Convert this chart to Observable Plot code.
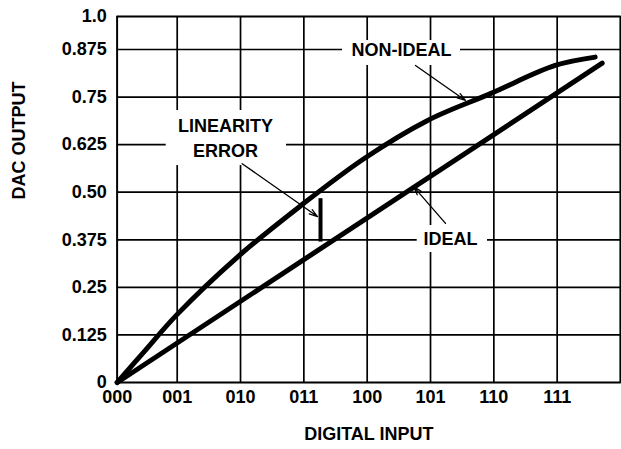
<!DOCTYPE html>
<html>
<head>
<meta charset="utf-8">
<script src="https://cdn.jsdelivr.net/npm/d3@7"></script>
<script src="https://cdn.jsdelivr.net/npm/@observablehq/plot@0.6"></script>
<style>
  html, body { margin: 0; padding: 0; background: white; }
  #chart { width: 621px; height: 449px; }
</style>
</head>
<body>
<div id="chart"></div>
<script>
// Tick labels
const xTickLabels = ["000", "001", "010", "011", "100", "101", "110", "111"];
const yTickValues = [0, 0.125, 0.25, 0.375, 0.5, 0.625, 0.75, 0.875, 1.0];
const yTickLabels = ["0", "0.125", "0.25", "0.375", "0.50", "0.625", "0.75", "0.875", "1.0"];

// Non-ideal transfer curve (x = digital code index, y = DAC output)
const nonIdealX = [0, 0.443, 1.0, 1.947, 2.946, 3.948, 4.947, 5.947, 6.968, 7.6];
const nonIdealY = [0, 0.080, 0.179, 0.329, 0.464, 0.588, 0.688, 0.759, 0.833, 0.855];

// Ideal transfer line
const idealX = [0, 7.711];
const idealY = [0, 0.839];

// Linearity error bar
const errorBarX = [3.263];
const errorBarY1 = [0.369];
const errorBarY2 = [0.483];

// Annotation labels
const labelText = ["NON-IDEAL", "LINEARITY", "ERROR", "IDEAL"];
const labelX = [4.542, 1.763, 1.763, 5.316];
const labelY = [0.872, 0.673, 0.608, 0.376];

// White boxes behind labels (break the grid)
const boxX1 = [3.61, 0.817, 4.79];
const boxX2 = [5.473, 2.726, 5.9];
const boxY1 = [0.833, 0.570, 0.3416];
const boxY2 = [0.909, 0.7147, 0.4125];

// Pointer arrows
const arrowX1 = [4.763, 5.237, 2.026];
const arrowY1 = [0.833, 0.418, 0.575];
const arrowX2 = [5.552, 4.736, 3.215];
const arrowY2 = [0.741, 0.514, 0.436];

// The printed axes are not quite uniform: first code step is narrower,
// and the 0.875 -> 1.0 step is compressed. Map values to grid units.
const firstStep = 60 / 63.33;
const topStep = 33 / 47.57;
const gx = c => c <= 1 ? c * firstStep : firstStep + (c - 1);
const gy = v => v <= 0.875 ? v * 8 : 7 + (v - 0.875) / 0.125 * topStep;

const nonIdeal = nonIdealX.map((x, i) => ({x, y: nonIdealY[i]}));
const ideal = idealX.map((x, i) => ({x, y: idealY[i]}));
const bars = errorBarX.map((x, i) => ({x, y1: errorBarY1[i], y2: errorBarY2[i]}));
const labels = labelText.map((t, i) => ({t, x: labelX[i], y: labelY[i]}));
const boxes = boxX1.map((x1, i) => ({x1, x2: boxX2[i], y1: boxY1[i], y2: boxY2[i]}));
const arrows = arrowX1.map((x1, i) => ({x1, y1: arrowY1[i], x2: arrowX2[i], y2: arrowY2[i]}));
const xTicks = xTickLabels.map((t, i) => ({x: i, t}));
const xGrid = xTickLabels.map((_, i) => i).concat([xTickLabels.length]);
const yTicks = yTickValues.map((v, i) => ({y: v, t: yTickLabels[i]}));

const W = 621, H = 449, mL = 116.7, mR = 1, mT = 16, mB = 67;
const FONT = "'Liberation Sans', Arial, Helvetica, sans-serif";

const chart = Plot.plot({
  width: W,
  height: H,
  marginLeft: mL,
  marginRight: mR,
  marginTop: mT,
  marginBottom: mB,
  style: {fontFamily: FONT, fontSize: "18px", fontWeight: "bold", background: "white", color: "black"},
  x: {domain: [0, gx(xTickLabels.length)], axis: null},
  y: {domain: [0, gy(1)], axis: null},
  marks: [
    Plot.ruleX(xGrid, {x: d => gx(d), stroke: "black", strokeWidth: 1.7}),
    Plot.ruleY(yTickValues, {y: d => gy(d), stroke: "black", strokeWidth: 1.7}),
    Plot.frame({stroke: "black", strokeWidth: 1.7}),
    Plot.rect(boxes, {x1: d => gx(d.x1), x2: d => gx(d.x2), y1: d => gy(d.y1), y2: d => gy(d.y2), fill: "white"}),
    Plot.line(ideal, {x: d => gx(d.x), y: d => gy(d.y), stroke: "black", strokeWidth: 5}),
    Plot.line(nonIdeal, {x: d => gx(d.x), y: d => gy(d.y), stroke: "black", strokeWidth: 5, curve: "catmull-rom"}),
    Plot.ruleX(bars, {x: d => gx(d.x), y1: d => gy(d.y1), y2: d => gy(d.y2), stroke: "black", strokeWidth: 4}),
    Plot.arrow(arrows, {x1: d => gx(d.x1), y1: d => gy(d.y1), x2: d => gx(d.x2), y2: d => gy(d.y2), stroke: "black", strokeWidth: 1.3, headLength: 10, headAngle: 35}),
    Plot.text(labels, {x: d => gx(d.x), y: d => gy(d.y), text: "t", fontSize: 18, fontWeight: "bold", fill: "black"}),
    Plot.text(xTicks, {x: d => gx(d.x), text: "t", frameAnchor: "bottom", dy: 20.5, fontSize: 18, fontWeight: "bold", fill: "black"}),
    Plot.text(yTicks, {y: d => gy(d.y), text: "t", frameAnchor: "left", textAnchor: "end", dx: -10.5, fontSize: 18, fontWeight: "bold", fill: "black"}),
    Plot.text(["DIGITAL INPUT"], {frameAnchor: "bottom", dy: 57, fontSize: 18, fontWeight: "bold", fill: "black"}),
    Plot.text(["DAC OUTPUT"], {frameAnchor: "left", rotate: -90, dx: -98, fontSize: 18, fontWeight: "bold", fill: "black"})
  ]
});
document.getElementById("chart").appendChild(chart);
</script>
</body>
</html>
